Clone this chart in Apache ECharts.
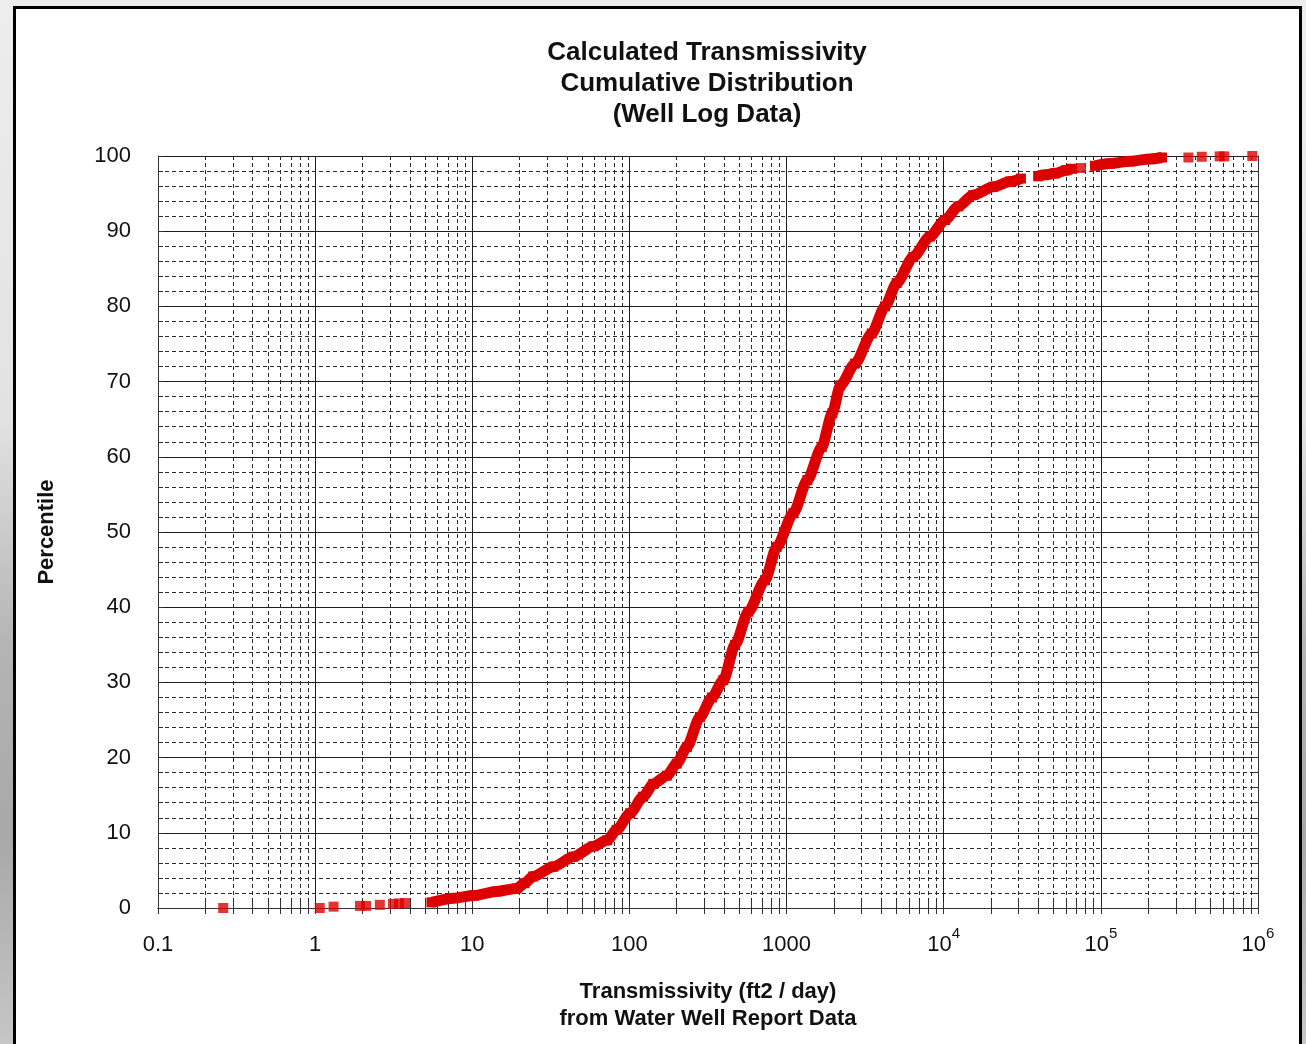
<!DOCTYPE html>
<html>
<head>
<meta charset="utf-8">
<script src="https://cdn.jsdelivr.net/npm/echarts@6/dist/echarts.min.js"></script>
<style>
html, body { margin:0; padding:0; width:1306px; height:1044px; overflow:hidden; }
body { background: linear-gradient(180deg, #ededed 0%, #e2e2e2 40%, #b4b4b4 62%, #a8a8a8 80%, #c6c6c6 100%); }
#frame { position:absolute; left:13px; top:6px; width:1283px; height:1100px; border:3px solid #000; background:#fff; }
#chart { position:absolute; left:0; top:0; width:1306px; height:1044px; }
</style>
</head>
<body>
<div id="frame"></div>
<div id="chart"></div>
<script>
// ---- Data ----
const titleLines = ['Calculated Transmissivity', 'Cumulative Distribution', '(Well Log Data)'];
const xAxisTitle = 'Transmissivity (ft2 / day)\nfrom Water Well Report Data';
const yAxisTitle = 'Percentile';
// x tick labels for decades 0.1 ... 10^6
const xTickLabels = ['{b|0.1}', '{b|1}', '{b|10}', '{b|100}', '{b|1000}', '{b|10}{sup|4}', '{b|10}{sup|5}', '{b|10}{sup|6}'];

// isolated low-end points
const lowT = [0.26, 1.07, 1.31, 1.93, 2.11, 2.58, 3.13, 3.42, 3.73];
const lowP = [0, 0, 0.18, 0.28, 0.28, 0.42, 0.55, 0.6, 0.66];

// main continuous band
const mainT = [5.5, 7.6, 10.2, 14.3, 19.2, 21.5, 24.4, 32.8, 44, 59, 72, 83, 101, 122, 142, 173, 200, 232, 281, 335, 396, 470, 571, 729, 865, 1104, 1356, 1673, 1954, 2200, 2728, 3482, 4229, 5020, 6400, 8180, 10190, 12390, 15420, 20700, 26400, 31000];
const mainP = [0.75, 1.3, 1.65, 2.2, 2.6, 3.3, 4.2, 5.5, 6.8, 8.2, 9.0, 10.4, 12.6, 14.8, 16.5, 17.6, 19.2, 21.4, 25.4, 28.0, 30.3, 35.0, 39.4, 43.6, 48.0, 52.5, 56.9, 61.3, 65.8, 69.5, 72.4, 76.4, 80.0, 83.1, 86.6, 89.3, 91.5, 93.3, 94.8, 95.9, 96.6, 97.0];

// upper tail segments
const tailAT = [39900, 44150, 51100, 60000, 65500];
const tailAP = [97.3, 97.5, 97.7, 98.1, 98.3];
const tailBT = [91800, 114400, 153400, 205600, 245000];
const tailBP = [98.7, 99.0, 99.3, 99.6, 99.8];

// isolated high-end points
const highT = [74800, 360600, 438500, 570000, 610000, 920000];
const highP = [98.4, 99.8, 99.9, 99.95, 99.95, 100];

// ---- Chart ----
const FONT = "'Liberation Sans', Arial, Helvetica, sans-serif";
const RED = '#dd0000';
const pairs = (xs, ys) => xs.map((x, i) => [x, ys[i]]);

const majorLine = { color: '#1e1e1e', width: 1, type: 'solid' };
const minorLine = { color: '#2a2a2a', width: 1, type: [4, 3] };
const edgeLine = { color: '#333', width: 1 };

function xFormatter(v) {
  const e = Math.round(Math.log10(v));
  return xTickLabels[e + 1] !== undefined ? xTickLabels[e + 1] : '';
}

const labelStyle = { fontFamily: FONT, fontSize: 22, color: '#111' };

const lineSeries = (name, xs, ys) => ({
  name, type: 'line', data: pairs(xs, ys),
  showSymbol: true, showAllSymbol: true, symbol: 'rect', symbolSize: 10,
  smooth: 0.25, smoothMonotone: 'x',
  itemStyle: { color: RED }, lineStyle: { color: RED, width: 11, cap: 'butt', join: 'round' },
  clip: false, silent: true, z: 5
});
const scatterSeries = (name, xs, ys) => ({
  name, type: 'scatter', data: pairs(xs, ys), symbol: 'rect', symbolSize: 10,
  itemStyle: { color: RED }, clip: false, silent: true, z: 5
});

const option = {
  animation: false,
  backgroundColor: 'transparent',
  title: {
    text: titleLines.join('\n'),
    left: 707, top: 37, padding: 0,
    textAlign: 'center', textVerticalAlign: 'top',
    textStyle: { fontFamily: FONT, fontSize: 26, fontWeight: 'bold', color: '#111', lineHeight: 31 }
  },
  grid: { left: 158, right: 48, top: 156, bottom: 136, containLabel: false },
  xAxis: [
    {
      type: 'log', logBase: 10, min: 0.1, max: 1000000, position: 'bottom',
      name: xAxisTitle, nameLocation: 'middle', nameGap: 70,
      nameTextStyle: { fontFamily: FONT, fontSize: 22, fontWeight: 'bold', color: '#111', lineHeight: 27 },
      axisLine: { show: true, lineStyle: edgeLine },
      axisTick: { show: true, inside: true, length: 6, lineStyle: edgeLine },
      minorTick: { show: true, splitNumber: 9, length: 6, lineStyle: edgeLine },
      splitLine: { show: true, lineStyle: majorLine },
      minorSplitLine: { show: true, lineStyle: minorLine },
      axisLabel: {
        margin: 18, showMinLabel: true, showMaxLabel: true, formatter: xFormatter,
        rich: {
          b: { fontFamily: FONT, fontSize: 22, color: '#111', lineHeight: 30, verticalAlign: 'bottom' },
          sup: { fontFamily: FONT, fontSize: 15, color: '#111', lineHeight: 15, verticalAlign: 'top' }
        }
      }
    },
    {
      type: 'log', logBase: 10, min: 0.1, max: 1000000, position: 'top',
      axisLine: { show: true, lineStyle: edgeLine },
      axisTick: { show: true, inside: true, length: 6, lineStyle: edgeLine },
      minorTick: { show: true, splitNumber: 9, length: 6, lineStyle: edgeLine },
      splitLine: { show: false }, axisLabel: { show: false }
    }
  ],
  yAxis: [
    {
      type: 'value', min: 0, max: 100, interval: 10, position: 'left',
      name: yAxisTitle, nameLocation: 'middle', nameGap: 100,
      nameTextStyle: { fontFamily: FONT, fontSize: 22, fontWeight: 'bold', color: '#111' },
      axisLine: { show: true, lineStyle: edgeLine },
      axisTick: { show: true, inside: true, length: 5, lineStyle: edgeLine },
      minorTick: { show: true, splitNumber: 5, length: 5, lineStyle: edgeLine },
      splitLine: { show: true, lineStyle: majorLine },
      minorSplitLine: { show: true, lineStyle: minorLine },
      axisLabel: Object.assign({}, labelStyle, { margin: 27, showMinLabel: true, showMaxLabel: true })
    },
    {
      type: 'value', min: 0, max: 100, interval: 10, position: 'right',
      axisLine: { show: true, lineStyle: edgeLine },
      axisTick: { show: true, inside: true, length: 5, lineStyle: edgeLine },
      minorTick: { show: true, splitNumber: 5, length: 5, lineStyle: edgeLine },
      splitLine: { show: false }, axisLabel: { show: false }
    }
  ],
  series: [
    scatterSeries('low', lowT, lowP),
    lineSeries('main', mainT, mainP),
    lineSeries('tailA', tailAT, tailAP),
    lineSeries('tailB', tailBT, tailBP),
    scatterSeries('high', highT, highP)
  ]
};

const chart = echarts.init(document.getElementById('chart'), null, { renderer: 'canvas' });
chart.setOption(option);
</script>
</body>
</html>
